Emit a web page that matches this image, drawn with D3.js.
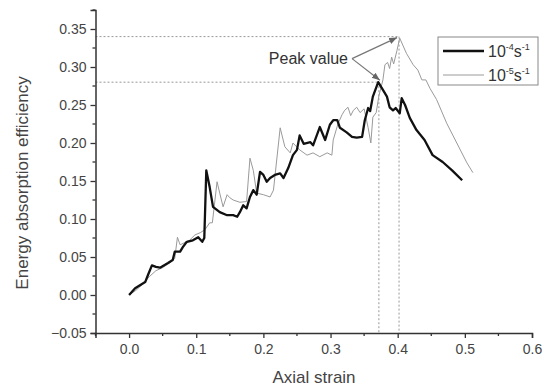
<!DOCTYPE html>
<html>
<head>
<meta charset="utf-8">
<script src="https://cdn.jsdelivr.net/npm/d3@7"></script>
<style>
body { margin: 0; background: #fff; }
svg { font-family: Arial, "Liberation Sans", sans-serif; }
</style>
</head>
<body>
<svg width="544" height="387"></svg>
<script>
// strain rate 1e-4 s^-1 (thick black)
const strainA = [0, 0.009, 0.024, 0.028, 0.034, 0.040, 0.046, 0.058, 0.065, 0.068, 0.076, 0.080, 0.086, 0.095, 0.103, 0.109, 0.112,
  0.115, 0.120, 0.125, 0.135, 0.146, 0.155, 0.161, 0.165, 0.170, 0.175, 0.180, 0.185, 0.190, 0.195, 0.200, 0.205, 0.210, 0.217,
  0.225, 0.230, 0.237, 0.244, 0.250, 0.254, 0.260, 0.270, 0.274, 0.284, 0.292, 0.299, 0.304, 0.310, 0.314, 0.324, 0.332, 0.339,
  0.347, 0.351, 0.356, 0.359, 0.363, 0.371, 0.378, 0.384, 0.388, 0.393, 0.397, 0.403, 0.406, 0.411, 0.418, 0.428, 0.440, 0.452,
  0.467, 0.481, 0.496];
const effA = [0, 0.009, 0.017, 0.026, 0.039, 0.037, 0.036, 0.042, 0.046, 0.057, 0.057, 0.063, 0.070, 0.072, 0.076, 0.070, 0.075,
  0.164, 0.142, 0.116, 0.109, 0.105, 0.105, 0.103, 0.109, 0.118, 0.114, 0.129, 0.138, 0.132, 0.162, 0.158, 0.149, 0.154, 0.158,
  0.160, 0.154, 0.167, 0.184, 0.191, 0.210, 0.199, 0.201, 0.197, 0.221, 0.204, 0.224, 0.230, 0.230, 0.220, 0.214, 0.208, 0.207,
  0.208, 0.230, 0.246, 0.242, 0.261, 0.280, 0.270, 0.261, 0.247, 0.243, 0.246, 0.239, 0.259, 0.250, 0.233, 0.217, 0.204, 0.184,
  0.175, 0.164, 0.151];

// strain rate 1e-5 s^-1 (thin grey)
const strainB = [0, 0.010, 0.020, 0.030, 0.040, 0.050, 0.060, 0.068, 0.072, 0.076, 0.090, 0.098, 0.106, 0.113, 0.120, 0.124,
  0.131, 0.135, 0.140, 0.146, 0.150, 0.155, 0.165, 0.175, 0.180, 0.185, 0.190, 0.200, 0.210, 0.215, 0.225, 0.232, 0.240, 0.244,
  0.254, 0.265, 0.274, 0.284, 0.295, 0.302, 0.304, 0.311, 0.317, 0.321, 0.326, 0.330, 0.334, 0.339, 0.344, 0.350, 0.356, 0.360,
  0.363, 0.368, 0.372, 0.378, 0.381, 0.385, 0.388, 0.391, 0.394, 0.399, 0.403, 0.413, 0.423, 0.430, 0.436, 0.442, 0.448, 0.458,
  0.473, 0.488, 0.503, 0.512];
const effB = [0, 0.006, 0.014, 0.024, 0.032, 0.036, 0.042, 0.048, 0.076, 0.066, 0.072, 0.079, 0.082, 0.086, 0.095, 0.095,
  0.149, 0.134, 0.116, 0.132, 0.128, 0.125, 0.122, 0.123, 0.180, 0.164, 0.134, 0.132, 0.129, 0.138, 0.220, 0.195, 0.187, 0.200,
  0.191, 0.184, 0.187, 0.182, 0.187, 0.184, 0.204, 0.225, 0.237, 0.243, 0.247, 0.236, 0.243, 0.247, 0.240, 0.245, 0.220, 0.200,
  0.234, 0.240, 0.262, 0.283, 0.303, 0.306, 0.298, 0.313, 0.304, 0.322, 0.338, 0.318, 0.303, 0.296, 0.283, 0.283, 0.272, 0.257,
  0.226, 0.200, 0.174, 0.161];

const xTicks = [0, 0.1, 0.2, 0.3, 0.4, 0.5, 0.6];
const xMinor = [-0.05, 0.05, 0.15, 0.25, 0.35, 0.45, 0.55];
const yTicks = [-0.05, 0, 0.05, 0.10, 0.15, 0.20, 0.25, 0.30, 0.35];
const yMinor = [-0.025, 0.025, 0.075, 0.125, 0.175, 0.225, 0.275, 0.325, 0.375];

const peakA = {x: 0.372, y: 0.28};
const peakB = {x: 0.402, y: 0.34};

const svg = d3.select('svg');
const axisColor = '#333';
const textColor = '#444';

const x = d3.scaleLinear().domain([-0.05, 0.6]).range([95.5, 532]);
const y = d3.scaleLinear().domain([-0.05, 0.375]).range([333, 10]);

// dotted guide lines to the peaks
const guides = svg.append('g')
    .attr('stroke', '#999')
    .attr('stroke-width', 1)
    .attr('stroke-dasharray', '2,2');
[peakA, peakB].forEach(p => {
    guides.append('line')
        .attr('x1', x(-0.05)).attr('x2', x(p.x))
        .attr('y1', y(p.y)).attr('y2', y(p.y));
    guides.append('line')
        .attr('x1', x(p.x)).attr('x2', x(p.x))
        .attr('y1', y(p.y)).attr('y2', y(-0.05));
});

// curves
const line = (xs, ys) => d3.line()
    .x((d, i) => x(xs[i]))
    .y((d, i) => y(ys[i]))(xs);

svg.append('path')
    .attr('d', line(strainB, effB))
    .attr('fill', 'none')
    .attr('stroke', '#9a9a9a')
    .attr('stroke-width', 1);

svg.append('path')
    .attr('d', line(strainA, effA))
    .attr('fill', 'none')
    .attr('stroke', '#111')
    .attr('stroke-width', 2.3)
    .attr('stroke-linejoin', 'round');

// axes
const xAxis = svg.append('g')
    .attr('transform', `translate(0,${y(-0.05)})`)
    .call(d3.axisBottom(x).tickValues(xTicks).tickSize(5).tickPadding(6).tickFormat(d3.format('.1f')));
xAxis.append('g').selectAll('line').data(xMinor).enter().append('line')
    .attr('x1', d => x(d)).attr('x2', d => x(d))
    .attr('y1', 0).attr('y2', 3);

const yAxis = svg.append('g')
    .attr('transform', `translate(${x(-0.05)},0)`)
    .call(d3.axisLeft(y).tickValues(yTicks).tickSize(5).tickPadding(4).tickFormat(d3.format('.2f')));
yAxis.append('g').selectAll('line').data(yMinor).enter().append('line')
    .attr('x1', 0).attr('x2', -3)
    .attr('y1', d => y(d)).attr('y2', d => y(d));

[xAxis, yAxis].forEach(a => {
    a.select('.domain').attr('stroke', axisColor).attr('stroke-width', 1.5);
    a.selectAll('line').attr('stroke', axisColor).attr('stroke-width', 1.3);
    a.selectAll('text').attr('fill', textColor).style('font-size', '14px')
        .style('font-family', 'Arial, "Liberation Sans", sans-serif');
});

// axis titles
svg.append('text')
    .attr('x', 314).attr('y', 383)
    .attr('text-anchor', 'middle')
    .attr('fill', textColor)
    .style('font-size', '17px')
    .text('Axial strain');

svg.append('text')
    .attr('transform', 'translate(28,183)rotate(-90)')
    .attr('text-anchor', 'middle')
    .attr('fill', textColor)
    .style('font-size', '17px')
    .text('Energy absorption efficiency');

// peak annotation
svg.append('defs').append('marker')
    .attr('id', 'arrow')
    .attr('viewBox', '0 0 10 10')
    .attr('refX', 10).attr('refY', 5)
    .attr('markerWidth', 8).attr('markerHeight', 8)
    .attr('markerUnits', 'userSpaceOnUse')
    .attr('orient', 'auto')
    .append('path')
    .attr('d', 'M0,1L10,5L0,9Z')
    .attr('fill', '#666');

const from = {x: 0.332, y: 0.311};
svg.append('line')
    .attr('x1', x(from.x)).attr('y1', y(from.y))
    .attr('x2', x(peakB.x) - 2).attr('y2', y(peakB.y) + 1)
    .attr('stroke', '#777').attr('stroke-width', 1.2)
    .attr('marker-end', 'url(#arrow)');
svg.append('line')
    .attr('x1', x(from.x)).attr('y1', y(from.y))
    .attr('x2', x(peakA.x) + 1).attr('y2', y(peakA.y) - 2)
    .attr('stroke', '#777').attr('stroke-width', 1.2)
    .attr('marker-end', 'url(#arrow)');

svg.append('text')
    .attr('x', x(from.x) - 4).attr('y', y(from.y) + 5)
    .attr('text-anchor', 'end')
    .attr('fill', '#333')
    .style('font-size', '16px')
    .text('Peak value');

// legend
const legend = svg.append('g');
legend.append('rect')
    .attr('x', 438).attr('y', 37)
    .attr('width', 100).attr('height', 48)
    .attr('fill', '#fff')
    .attr('stroke', '#888')
    .attr('stroke-width', 1);

const legendItems = [
    {exp: '-4', color: '#111', width: 2.3},
    {exp: '-5', color: '#9a9a9a', width: 1}
];
legendItems.forEach((d, i) => {
    const ly = 51 + i * 24;
    legend.append('line')
        .attr('x1', 443).attr('x2', 484)
        .attr('y1', ly).attr('y2', ly)
        .attr('stroke', d.color).attr('stroke-width', d.width);
    const t = legend.append('text')
        .attr('x', 488).attr('y', ly + 6)
        .attr('fill', '#333')
        .style('font-size', '16px');
    t.append('tspan').text('10');
    t.append('tspan').attr('dy', -7).style('font-size', '9px').text(d.exp);
    t.append('tspan').attr('dy', 7).text('s');
    t.append('tspan').attr('dy', -7).style('font-size', '9px').text('-1');
});
</script>
</body>
</html>
